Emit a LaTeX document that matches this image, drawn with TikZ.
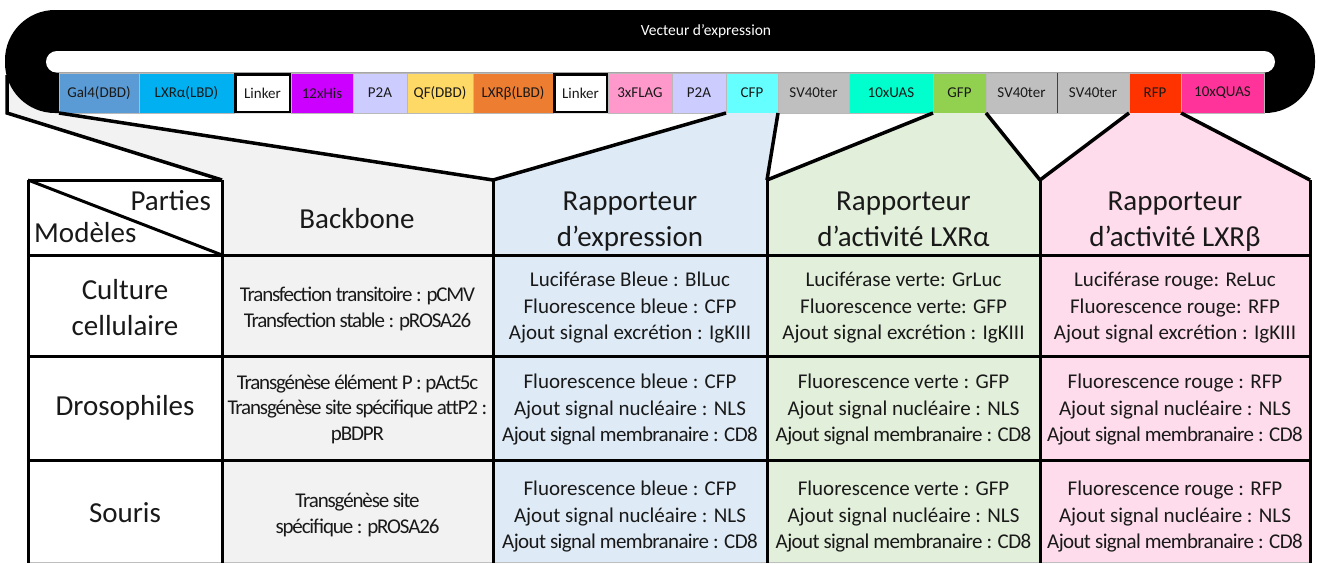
\documentclass[tikz,border=0pt]{standalone}
\usepackage{fontspec}
\setmainfont{Carlito}
\newfontfamily\condB[LetterSpace=-5.5]{Carlito}
\newfontfamily\condA[LetterSpace=-3]{Carlito}
\definecolor{cGal}{HTML}{5B9BD5}
\definecolor{cLXRa}{HTML}{00B0F0}
\definecolor{cHis}{HTML}{CC00FF}
\definecolor{cP2A}{HTML}{CCCCFF}
\definecolor{cQF}{HTML}{FFD966}
\definecolor{cLXRb}{HTML}{ED7D31}
\definecolor{cFLAG}{HTML}{FF99CC}
\definecolor{cCFP}{HTML}{66FFFF}
\definecolor{cSV}{HTML}{BFBFBF}
\definecolor{cUAS}{HTML}{00FFCC}
\definecolor{cGFP}{HTML}{92D050}
\definecolor{cRFP}{HTML}{FF3300}
\definecolor{cQUAS}{HTML}{FF3399}
\definecolor{colGray}{HTML}{F2F2F2}
\definecolor{colBlue}{HTML}{DEEBF7}
\definecolor{colGreen}{HTML}{E2EFDA}
\definecolor{colPink}{HTML}{FFDCEC}
\begin{document}
\begin{tikzpicture}[x=1pt,y=-1pt,
  gene/.style={draw=gray!55, line width=0.6pt, anchor=south west, minimum height=40pt,
    inner sep=0pt, outer sep=0pt, text=black!90, font=\fontsize{15}{17}\selectfont},
  linker/.style={gene, draw=black, line width=2.5pt, minimum height=37.5pt, fill=white},
  cell/.style={inner sep=0pt, align=center, text=black!90, font=\fontsize{21}{26.5}\selectfont},
  bbcell/.style={cell, font=\fontsize{21}{25.5}\selectfont\condB},
  big/.style={inner sep=0pt, align=center, text=black!90, font=\fontsize{29}{36}\selectfont},
  edge/.style={line width=3pt},
  funnel/.style={line width=3.5pt}
]
\useasboundingbox (0,0) rectangle (1318,563);
% table corner coordinates
\coordinate (h0) at (28,180);   \coordinate (h1) at (222,180);
\coordinate (h2) at (493,180);  \coordinate (h3) at (767,180);
\coordinate (h4) at (1040,180); \coordinate (h5) at (1310,180);
\coordinate (b0) at (28,563);   \coordinate (b1) at (222,563);
\coordinate (b2) at (493,563);  \coordinate (b3) at (767,563);
\coordinate (b4) at (1040,563); \coordinate (b5) at (1310,563);
\coordinate (L0) at (7,113);    \coordinate (Ltop) at (7,60);

% backbone funnel (under the vector)
\fill[colGray] (Ltop) -- (L0) -- (h1) -- (h2) -- (59,113) -- (59,60) -- cycle;
\draw[funnel] (7,75) -- (L0) -- (h1);

% vector body
\fill[black] [rounded corners=50pt] (5,10) rectangle (1315,113);
\fill[white] [rounded corners=10.8pt] (46,51) rectangle (1275,72.6);
\node[text=white, font=\fontsize{15.5}{17}\selectfont, anchor=base] (vec) at (706,35) {Vecteur d’expression};

% genes
\node[gene, fill=cGal,  minimum width=80pt] (gal4) at (59,113) {Gal4(DBD)};
\node[gene, fill=cLXRa, minimum width=95pt] (lxra) at (139,113) {LXRα(LBD)};
\node[linker, minimum width=54.5pt] (lk1) at (235.25,111.75) {Linker};
\node[gene, fill=cHis,  minimum width=62pt] (his) at (291,113) {12xHis};
\node[gene, fill=cP2A,  minimum width=54pt] (p2a1) at (353,113) {P2A};
\node[gene, fill=cQF,   minimum width=66pt] (qf) at (407,113) {QF(DBD)};
\node[gene, fill=cLXRb, minimum width=80pt] (lxrb) at (473,113) {LXRβ(LBD)};
\node[linker, minimum width=52.5pt] (lk2) at (554.25,111.75) {Linker};
\node[gene, fill=cFLAG, minimum width=64pt] (flag) at (608,113) {3xFLAG};
\node[gene, fill=cP2A,  minimum width=54pt] (p2a2) at (672,113) {P2A};
\node[gene, fill=cCFP,  minimum width=52pt] (cfp) at (726,113) {CFP};
\node[gene, fill=cSV,   minimum width=71pt] (sv1) at (778,113) {SV40ter};
\node[gene, fill=cUAS,  minimum width=84pt] (uas) at (849,113) {10xUAS};
\node[gene, fill=cGFP,  minimum width=53pt] (gfp) at (933,113) {GFP};
\node[gene, fill=cSV,   minimum width=71pt] (sv2) at (986,113) {SV40ter};
\node[gene, fill=cSV,   minimum width=72pt] (sv3) at (1057,113) {SV40ter};
\node[gene, fill=cRFP,  minimum width=52pt] (rfp) at (1129,113) {RFP};
\node[gene, fill=cQUAS, minimum width=83pt] (quas) at (1181,113) {10xQUAS};
\draw[black!75, line width=0.8pt] (sv3.south west) -- (sv3.north west);

% column fills
\fill[colGray] (h1) -- (h2) -- (b2) -- (b1) -- cycle;
\fill[colBlue] (h2) -- (cfp.south west) -- (cfp.south east) -- (h3) -- (b3) -- (b2) -- cycle;
\fill[colGreen] (h3) -- (gfp.south west) -- (gfp.south east) -- (h4) -- (b4) -- (b3) -- cycle;
\fill[colPink] (h4) -- (rfp.south west) -- (rfp.south east) -- (h5) -- (b5) -- (b4) -- cycle;

% funnel lines
\draw[funnel] (gal4.south west) -- (h2);
\draw[funnel] (h2) -- (cfp.south west);
\draw[funnel] (cfp.south east) -- (h3);
\draw[funnel] (h3) -- (gfp.south west);
\draw[funnel] (gfp.south east) -- (h4);
\draw[funnel] (h4) -- (rfp.south west);
\draw[funnel] (rfp.south east) -- (h5);

% table grid
\draw[black!25, line width=1pt] (28,562.5) -- (1310,562.5);
\draw[edge] (h0) -- (h1);
\draw[edge] (h0) -- (222,255);
\foreach \y in {255,356,460} \draw[edge] (28,\y) -- (1310,\y);
\draw[edge] (h0) -- (b0);
\draw[edge] (h1) -- (b1);
\draw[edge] (h2) -- (b2);
\draw[edge] (h3) -- (b3);
\draw[edge] (h4) -- (b4);
\draw[edge] (h5) -- (b5);

% header texts
\node[big, anchor=base east] (parties) at (211,210) {Parties};
\node[big, anchor=base west] (modeles) at (34,242) {Modèles};
\node[big, anchor=base] (hback) at (357,228) {Backbone};
\node[big] (hblue) at (630,221.5) {Rapporteur\\d’expression};
\node[big] (hgreen) at (903.5,219.5) {Rapporteur\\d’activité LXRα};
\node[big] (hpink) at (1175,221.5) {Rapporteur\\d’activité LXRβ};

% left column
\node[big] (m1) at (125,307.5) {Culture\\cellulaire};
\node[big, anchor=base] (m2) at (125,415) {Drosophiles};
\node[big, anchor=base] (m3) at (125,522) {Souris};

% backbone column
\node[bbcell] (bb1) at (357.5,309) {Transfection transitoire : pCMV\\Transfection stable : pROSA26};
\node[bbcell] (bb2) at (357.5,409) {Transgénèse élément P : pAct5c\\Transgénèse site spécifique attP2 :\\pBDPR};
\node[bbcell] (bb3) at (357.5,515) {Transgénèse site\\spécifique : pROSA26};

% blue column
\node[cell] (bl1) at (630,308) {Luciférase Bleue : BlLuc\\Fluorescence bleue : CFP\\Ajout signal excrétion : IgKIII};
\node[cell] (bl2) at (630,410) {Fluorescence bleue : CFP\\Ajout signal nucléaire : NLS\\{\condA Ajout signal membranaire : CD8}};
\node[cell] (bl3) at (630,517) {Fluorescence bleue : CFP\\Ajout signal nucléaire : NLS\\{\condA Ajout signal membranaire : CD8}};

% green column
\node[cell] (gr1) at (903.5,308) {Luciférase verte: GrLuc\\Fluorescence verte: GFP\\Ajout signal excrétion : IgKIII};
\node[cell] (gr2) at (903.5,410) {Fluorescence verte : GFP\\Ajout signal nucléaire : NLS\\{\condA Ajout signal membranaire : CD8}};
\node[cell] (gr3) at (903.5,517) {Fluorescence verte : GFP\\Ajout signal nucléaire : NLS\\{\condA Ajout signal membranaire : CD8}};

% pink column
\node[cell] (pk1) at (1175,308) {Luciférase rouge: ReLuc\\Fluorescence rouge: RFP\\Ajout signal excrétion : IgKIII};
\node[cell] (pk2) at (1175,410) {Fluorescence rouge : RFP\\Ajout signal nucléaire : NLS\\{\condA Ajout signal membranaire : CD8}};
\node[cell] (pk3) at (1175,517) {Fluorescence rouge : RFP\\Ajout signal nucléaire : NLS\\{\condA Ajout signal membranaire : CD8}};
\end{tikzpicture}
\end{document}
